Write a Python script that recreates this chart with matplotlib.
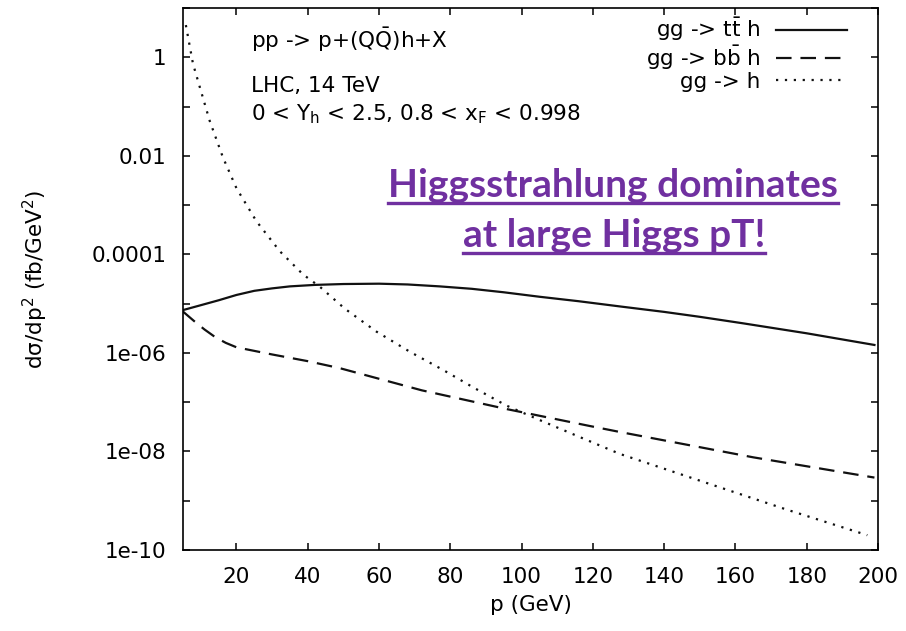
import numpy as np
import matplotlib
matplotlib.use("Agg")
import matplotlib.pyplot as plt
from matplotlib.lines import Line2D

plt.rcParams['font.family'] = ['DejaVu Sans']
plt.rcParams['mathtext.fontset'] = 'dejavusans'

# values
p_tt = [5, 10, 15, 20, 25, 30, 35, 42, 50, 60, 68, 77, 86, 95, 105, 116,
        128, 140, 150, 162, 180, 199]
xs_tt = [7.4e-6, 9.3e-6, 1.17e-5, 1.5e-5, 1.82e-5, 2.04e-5, 2.24e-5, 2.4e-5,
         2.5e-5, 2.54e-5, 2.45e-5, 2.24e-5, 2.0e-5, 1.7e-5, 1.38e-5, 1.12e-5,
         8.7e-6, 6.8e-6, 5.4e-6, 4.0e-6, 2.5e-6, 1.45e-6]

p_bb = [5, 8, 11, 14, 17, 20, 30, 40, 49, 72, 96, 119, 128, 165, 199]
xs_bb = [6.9e-6, 4.5e-6, 3.0e-6, 2.1e-6, 1.6e-6, 1.3e-6, 9.3e-7, 6.8e-7,
         4.9e-7, 1.74e-7, 7.2e-8, 3.3e-8, 2.45e-8, 7.6e-9, 2.95e-9]

p_h = [5.8, 7.8, 9.7, 12.5, 16.2, 20, 25.6, 32.2, 38.7, 43.4, 50.4, 59.3,
       68.7, 78, 86.4, 95.8, 105.2, 116.4, 127.6, 155.7, 174.4, 197]
xs_h = [4.5, 0.74, 0.25, 0.051, 0.0093, 2.2e-3, 4.7e-4, 1.15e-4, 3.9e-5,
        2.2e-5, 7.9e-6, 2.7e-6, 1.05e-6, 4.5e-7, 2.0e-7, 8.5e-8, 4.3e-8,
        1.95e-8, 8.9e-9, 1.86e-9, 6.6e-10, 2.0e-10]

labels = [r"gg -> t$\bar{\mathrm{t}}$ h", r"gg -> b$\bar{\mathrm{b}}$ h", "gg -> h"]

xticks = list(range(20, 201, 20))
yticks = [10.0 ** k for k in range(-10, 2)]
ytick_labels = {0: "1", -2: "0.01", -4: "0.0001", -6: "1e-06", -8: "1e-08", -10: "1e-10"}

W, H = 906, 631
fig = plt.figure(figsize=(W / 100, H / 100), dpi=100)
ax = fig.add_axes([183 / W, 1 - 550 / H, 695 / W, 542 / H])

ax.plot(p_tt, xs_tt, color='#111111', lw=1.6, label=labels[0])
ax.plot(p_bb, xs_bb, color='#111111', lw=1.6, dashes=(7, 4), label=labels[1])
ax.plot(p_h, xs_h, color='#111111', lw=1.6, dashes=(1, 3), label=labels[2])

ax.set_yscale('log')
ax.set_xlim(5, 200)
ax.set_ylim(1e-10, 10)
ax.set_xticks(xticks)
ax.set_yticks(yticks, [ytick_labels.get(k, "") for k in range(-10, 2)])
ax.minorticks_off()
ax.tick_params(direction='in', top=True, right=True, length=5, width=1.1,
               labelsize=15.5, pad=12)
for s in ax.spines.values():
    s.set_linewidth(1.2)

ax.set_xlabel("p (GeV)", fontsize=15.5, labelpad=6)
ax.set_ylabel(r"dσ/dp$^{2}$ (fb/GeV$^{2}$)", fontsize=15.5, labelpad=30)

ax.legend(loc='upper right', bbox_to_anchor=(0.955, 0.985), frameon=False,
          markerfirst=False, fontsize=15.5, handlelength=3.3, handletextpad=0.7,
          labelspacing=0.0, borderpad=0, borderaxespad=0)

fig.text(251 / W, 1 - 48 / H, r"pp -> p+(Q$\bar{\mathrm{Q}}$)h+X", fontsize=15.5, va='baseline')
fig.text(251 / W, 1 - 92 / H, "LHC, 14 TeV", fontsize=15.5, va='baseline')
fig.text(251 / W, 1 - 120 / H,
         r"0 < Y$_\mathrm{h}$ < 2.5, 0.8 < x$_\mathrm{F}$ < 0.998",
         fontsize=15.5, va='baseline')

purple = '#7030A0'
notes = []
notes.append(fig.text(613 / W, 1 - 197 / H, "Higgsstrahlung dominates", color=purple,
                      fontsize=28, fontweight='bold', family='Lato',
                      ha='center', va='baseline'))
notes.append(fig.text(614 / W, 1 - 247 / H, "at large Higgs pT!", color=purple,
                      fontsize=28, fontweight='bold', family='Lato',
                      ha='center', va='baseline'))

fig.canvas.draw()
r = fig.canvas.get_renderer()
for t in notes:
    bb = t.get_window_extent(r)
    yb = t.get_position()[1] * H - 6
    fig.add_artist(Line2D([bb.x0 / W, bb.x1 / W], [yb / H, yb / H],
                          color=purple, lw=2.4, transform=fig.transFigure))

fig.savefig("out.png", dpi=100)
